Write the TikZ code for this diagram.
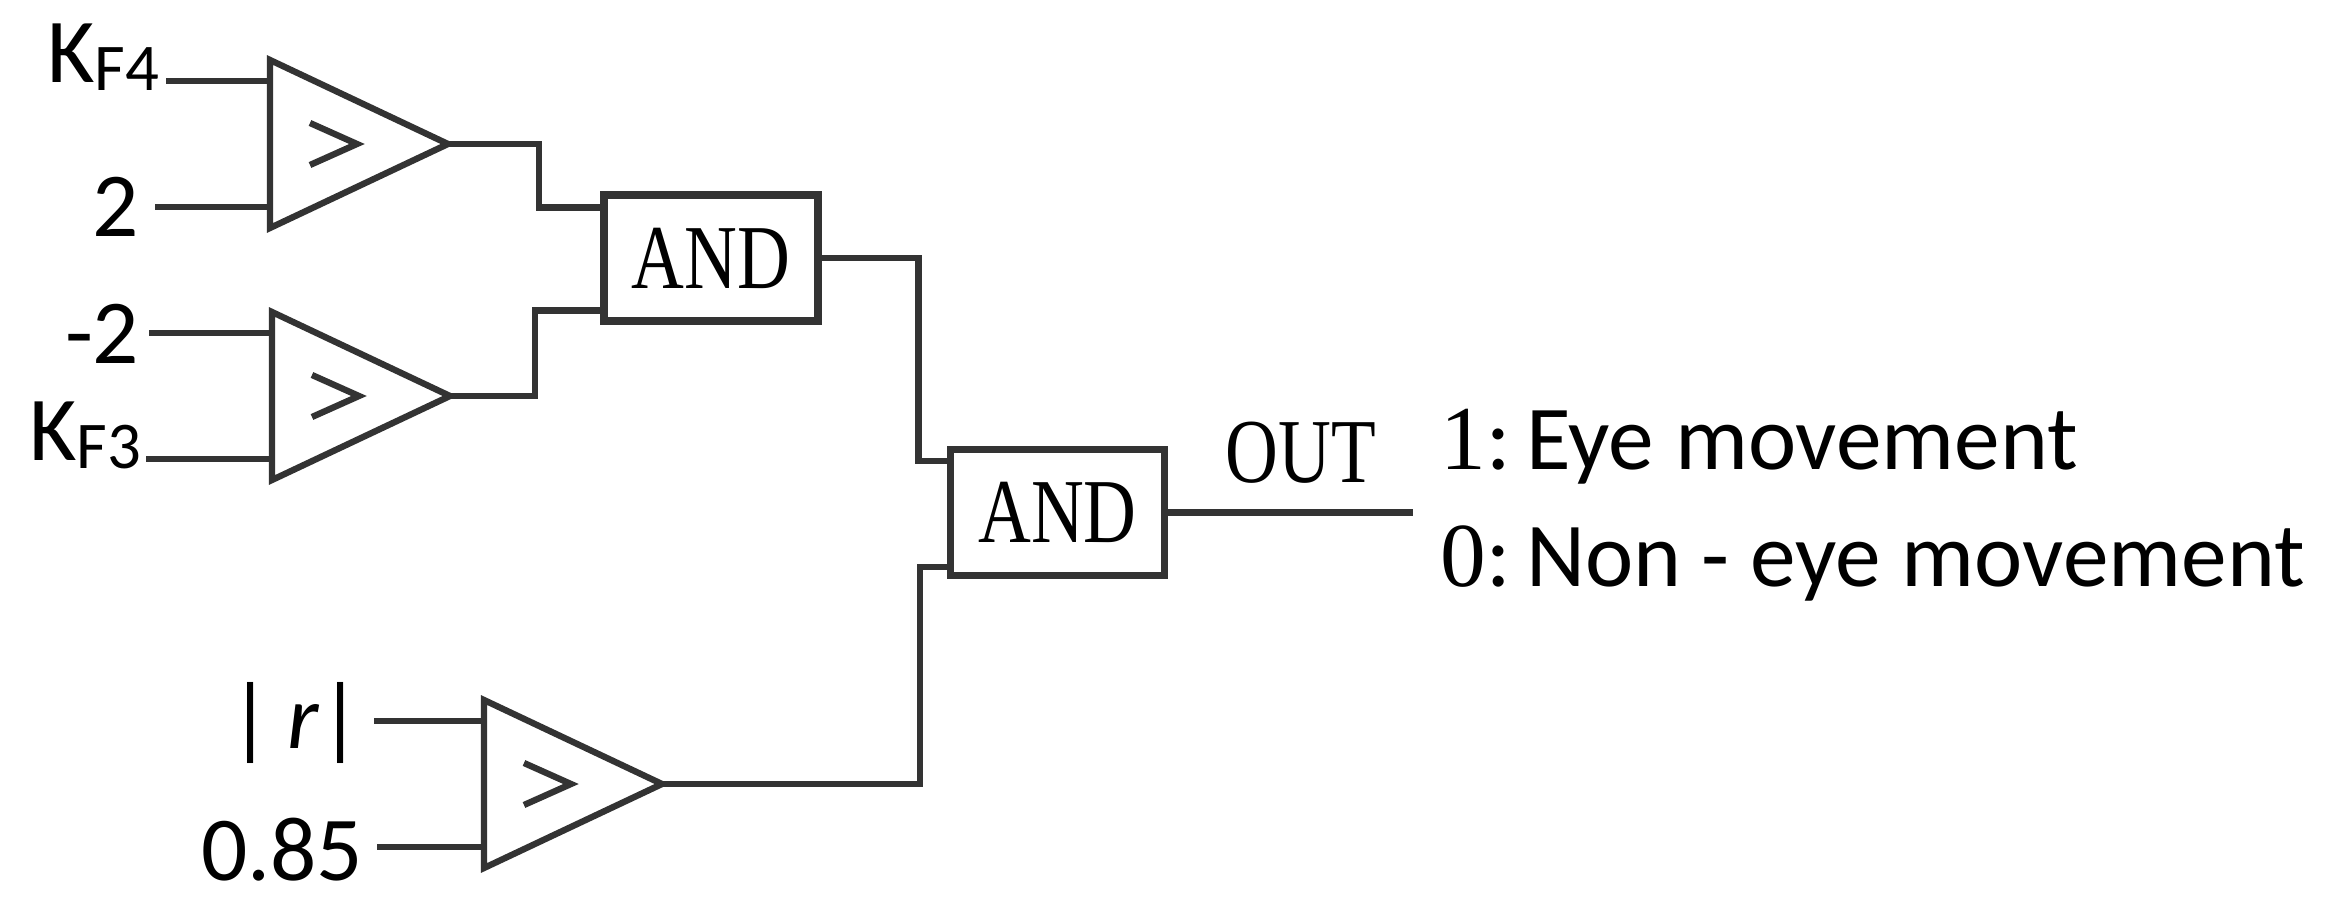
\documentclass[tikz,border=0pt]{standalone}
\usepackage{fontspec}
\setmainfont{Carlito}
\newfontfamily\tms{Liberation Serif}
\usetikzlibrary{positioning,calc}

\newcommand{\cmp}[3]{%
\draw[wire] (#2,#3+0.84) -- ++(1.78,-0.84) coordinate (#1-out) -- (#2,#3-0.84) -- cycle;
\draw[wire] (#2+0.40,#3+0.21) -- (#2+0.87,#3) -- (#2+0.40,#3-0.21);
\coordinate (#1-a) at (#2,#3+0.63);
\coordinate (#1-b) at (#2,#3-0.63);
}

\begin{document}
\begin{tikzpicture}[
wire/.style={line width=1.8pt, draw=black!80},
gate/.style={rectangle, draw=black!80, line width=2pt, minimum width=2.14cm, minimum height=1.26cm, inner sep=0pt, font=\fontsize{26}{26}\selectfont\tms},
lbl/.style={inner sep=0pt, font=\fontsize{26}{26}\selectfont},
]
\useasboundingbox (0,0) rectangle (23.47,9.03);

% comparators
\cmp{c1}{2.70}{7.59}
\cmp{c2}{2.72}{5.07}
\cmp{c3}{4.84}{1.19}

% gates
\node[gate] (and1) at (7.11,6.45) {\scalebox{0.8}[1]{AND}};
\node[gate] (and2) at (10.575,3.905) {\scalebox{0.8}[1]{AND}};
\coordinate (and1-a) at ($(and1.north west)+(0,-0.16)$);
\coordinate (and1-b) at ($(and1.south west)+(0,0.14)$);
\coordinate (and2-a) at ($(and2.north west)+(0,-0.15)$);
\coordinate (and2-b) at ($(and2.south west)+(0,0.12)$);

% inputs
\coordinate (kf4) at (c1-a -| 1.66,0);
\coordinate (two) at (c1-b -| 1.55,0);
\coordinate (mtwo) at (c2-a -| 1.49,0);
\coordinate (kf3) at (c2-b -| 1.46,0);
\coordinate (absr) at (c3-a -| 3.74,0);
\coordinate (thr) at (c3-b -| 3.77,0);

\node[lbl, anchor=base east] (kf4l) at (1.60,8.20) {K\raisebox{-0.08cm}{\fontsize{19}{19}\selectfont F4}};
\node[lbl, anchor=east] (twol) at (1.40,6.96) {2};
\node[lbl, anchor=east] (mtwol) at (1.40,5.69) {-2};
\node[lbl, anchor=base east] (kf3l) at (1.42,4.43) {K\raisebox{-0.08cm}{\fontsize{19}{19}\selectfont F3}};
\node[lbl, anchor=east] (absrl) at (3.62,1.80) {|\,\textit{r}|};
\node[lbl, anchor=east] (thrl) at (3.64,0.53) {0.85};

\draw[wire] (kf4) -- (c1-a);
\draw[wire] (two) -- (c1-b);
\draw[wire] (mtwo) -- (c2-a);
\draw[wire] (kf3) -- (c2-b);
\draw[wire] (absr) -- (c3-a);
\draw[wire] (thr) -- (c3-b);

% connections
\draw[wire] (c1-out) -- ++(0.91,0) |- (and1-a);
\draw[wire] (c2-out) -- ++(0.85,0) |- (and1-b);
\draw[wire] (and1.east) -- ++(0.97,0) |- (and2-a);
\draw[wire] (c3-out) -- ++(2.58,0) |- (and2-b);
\coordinate (out) at (14.13,3.905);
\draw[wire] (and2.east) -- (out);

\node[lbl, font=\fontsize{26}{26}\selectfont\tms] (outl) at (13.01,4.50) {\scalebox{0.8}[1]{OUT}};
\node[lbl, anchor=west] (one) at (14.40,4.56) {{\tms 1}:\,Eye movement};
\node[lbl, anchor=west] (zero) at (14.40,3.40) {{\tms 0}:\,Non - eye movement};
\end{tikzpicture}
\end{document}
